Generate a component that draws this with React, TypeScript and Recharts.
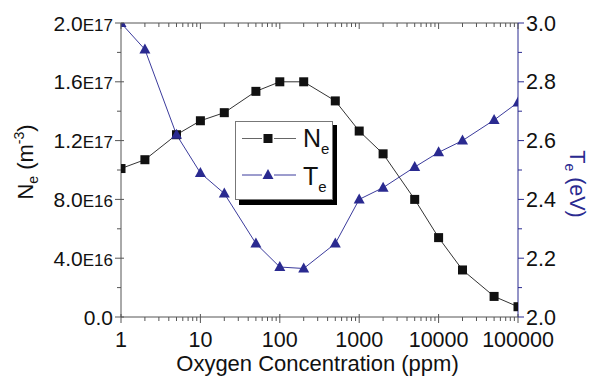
import React from 'react';
import { LineChart, Line, XAxis, YAxis, Legend } from 'recharts';

// ---- data ----
const oxygenPpm = [1, 2, 5, 10, 20, 50, 100, 200, 500, 1000, 2000, 5000, 10000, 20000, 50000, 100000];
const electronDensity = [1.01e17, 1.07e17, 1.24e17, 1.335e17, 1.39e17, 1.535e17, 1.6e17, 1.6e17, 1.47e17, 1.265e17, 1.11e17, 0.8e17, 0.54e17, 0.32e17, 0.14e17, 0.07e17];
const electronTemp = [3.0, 2.91, 2.62, 2.49, 2.42, 2.25, 2.17, 2.165, 2.25, 2.4, 2.44, 2.51, 2.56, 2.6, 2.67, 2.73];

// ---- ticks ----
const xMajorTicks = [1, 10, 100, 1000, 10000, 100000];
const xMajorLabels = ['1', '10', '100', '1000', '10000', '100000'];
const xMinorMultipliers = [2, 3, 4, 5, 6, 7, 8, 9];
const leftMajorTicks = [0, 4e16, 8e16, 1.2e17, 1.6e17, 2e17];
const leftMinorTicks = [2e16, 6e16, 1e17, 1.4e17, 1.8e17];
const leftTickMantissa = ['0.0', '4.0', '8.0', '1.2', '1.6', '2.0'];
const leftTickExponent = ['', 'E16', 'E16', 'E17', 'E17', 'E17'];
const rightMajorTicks = [2.0, 2.2, 2.4, 2.6, 2.8, 3.0];
const rightMinorTicks = [2.1, 2.3, 2.5, 2.7, 2.9];
const rightTickLabels = ['2.0', '2.2', '2.4', '2.6', '2.8', '3.0'];

const xAllTicks: number[] = [];
xMajorTicks.forEach((d, i) => {
  xAllTicks.push(d);
  if (i < xMajorTicks.length - 1) xMinorMultipliers.forEach((m) => xAllTicks.push(d * m));
});
const leftAllTicks = [...leftMajorTicks, ...leftMinorTicks].sort((a, b) => a - b);
const rightAllTicks = [...rightMajorTicks, ...rightMinorTicks].sort((a, b) => a - b);

const chartData = oxygenPpm.map((x, i) => ({ x, ne: electronDensity[i], te: electronTemp[i] }));

const FONT = '"Liberation Sans", Arial, sans-serif';
const AXIS_GRAY = '#555';
const BLUE = '#2a2a90';
const BLUE_LINE = '#3b3b9c';
const NE_LINE = '#333';

const BottomTick = (props: any) => {
  const { x, y, payload } = props;
  const i = xMajorTicks.indexOf(payload.value);
  const major = i >= 0;
  return (
    <g>
      <line x1={x} x2={x} y1={y - (major ? 3 : 0)} y2={y + (major ? 6 : 4)} stroke={AXIS_GRAY} />
      {major && (
        <text x={x} y={y + 30} textAnchor="middle" fontSize={21.5} fontFamily={FONT} fill="#111">
          {xMajorLabels[i]}
        </text>
      )}
    </g>
  );
};

const TopTick = (props: any) => {
  const { x, y, payload } = props;
  const major = xMajorTicks.indexOf(payload.value) >= 0;
  return <line x1={x} x2={x} y1={y} y2={y + (major ? 6 : 4)} stroke={AXIS_GRAY} />;
};

const LeftTick = (props: any) => {
  const { x, y, payload } = props;
  const i = leftMajorTicks.indexOf(payload.value);
  const major = i >= 0;
  return (
    <g>
      <line x1={x - (major ? 6 : 4)} x2={x + (major ? 3 : 0)} y1={y} y2={y} stroke={AXIS_GRAY} />
      {major && (
        <text x={x - 8} y={y + 7.5} textAnchor="end" fontSize={21} fontFamily={FONT} fill="#111">
          {leftTickMantissa[i]}
          <tspan fontSize={17}>{leftTickExponent[i]}</tspan>
        </text>
      )}
    </g>
  );
};

const RightTick = (props: any) => {
  const { x, y, payload } = props;
  const v = Math.round(payload.value * 10) / 10;
  const i = rightMajorTicks.indexOf(v);
  const major = i >= 0;
  return (
    <g>
      <line x1={x} x2={x + (major ? 6 : 4)} y1={y} y2={y} stroke={BLUE} />
      {major && (
        <text x={x + 8} y={y + 7.5} textAnchor="start" fontSize={21.5} fontFamily={FONT} fill="#111">
          {rightTickLabels[i]}
        </text>
      )}
    </g>
  );
};

const SquareDot = (props: any) => {
  const { cx, cy, index } = props;
  if (cx == null || cy == null) return <g key={`s${index}`} />;
  return <rect key={`s${index}`} x={cx - 4.5} y={cy - 4.5} width={9} height={9} fill="#111" />;
};

const TriangleDot = (props: any) => {
  const { cx, cy, index } = props;
  if (cx == null || cy == null) return <g key={`t${index}`} />;
  return (
    <polygon
      key={`t${index}`}
      points={`${cx},${cy - 6} ${cx - 5.5},${cy + 4} ${cx + 5.5},${cy + 4}`}
      fill={BLUE}
    />
  );
};

const XTitle = (props: any) => {
  const vb = props.viewBox || { x: 121, y: 317, width: 397 };
  return (
    <text x={vb.x + vb.width / 2 - 2} y={vb.y + 54} textAnchor="middle" fontSize={22} fontFamily={FONT} fill="#111">
      Oxygen Concentration (ppm)
    </text>
  );
};

const LeftTitle = () => (
  <text transform="translate(33,162) rotate(-90)" textAnchor="middle" fontSize={22} fontFamily={FONT} fill="#111">
    N<tspan fontSize={14} dy={5}>e</tspan>
    <tspan dy={-5}> (m</tspan>
    <tspan fontSize={14} dy={-9}>-3</tspan>
    <tspan dy={9}>)</tspan>
  </text>
);

const RightTitle = () => (
  <text transform="translate(570,184) rotate(90)" textAnchor="middle" fontSize={21.5} fontFamily={FONT} fill={BLUE}>
    T<tspan fontSize={14} dy={5}>e</tspan>
    <tspan dy={-5}> (eV)</tspan>
  </text>
);

const LegendBox = () => (
  <svg width={104} height={86} style={{ display: 'block' }}>
    <rect x={4} y={4} width={98} height={80} fill="#000" />
    <rect x={0.5} y={0.5} width={97} height={78} fill="#fff" stroke="#777" />
    <line x1={7} x2={27} y1={17.5} y2={17.5} stroke="#666" />
    <line x1={39} x2={61} y1={17.5} y2={17.5} stroke="#666" />
    <rect x={28.5} y={13} width={9} height={9} fill="#111" />
    <text x={68} y={26} fontSize={25} fontFamily={FONT} fill="#111">
      N<tspan fontSize={15} dy={7}>e</tspan>
    </text>
    <line x1={7} x2={27} y1={54} y2={54} stroke={BLUE_LINE} />
    <line x1={39} x2={61} y1={54} y2={54} stroke={BLUE_LINE} />
    <polygon points="33,48 27.5,58 38.5,58" fill={BLUE} />
    <text x={68} y={64} fontSize={25} fontFamily={FONT} fill="#111">
      T<tspan fontSize={15} dy={7}>e</tspan>
    </text>
  </svg>
);

export default function App() {
  return (
    <div style={{ position: 'absolute', left: 0, top: 0, width: 590, height: 376, background: '#fff' }}>
      <LineChart
        width={590}
        height={376}
        data={chartData}
        margin={{ top: 22, right: 71, bottom: 58, left: 120 }}
      >
        <XAxis
          xAxisId="bottom"
          dataKey="x"
          type="number"
          scale="log"
          domain={[1, 100000]}
          allowDataOverflow
          ticks={xAllTicks}
          interval={0}
          tick={<BottomTick />}
          tickLine={false}
          tickSize={0}
          tickMargin={0}
          height={1}
          axisLine={{ stroke: AXIS_GRAY }}
          label={<XTitle />}
        />
        <XAxis
          xAxisId="top"
          orientation="top"
          dataKey="x"
          type="number"
          scale="log"
          domain={[1, 100000]}
          allowDataOverflow
          ticks={xAllTicks}
          interval={0}
          tick={<TopTick />}
          tickLine={false}
          tickSize={0}
          tickMargin={0}
          height={1}
          axisLine={{ stroke: AXIS_GRAY }}
        />
        <YAxis
          yAxisId="left"
          orientation="left"
          type="number"
          domain={[0, 2e17]}
          allowDataOverflow
          ticks={leftAllTicks}
          interval={0}
          tick={<LeftTick />}
          tickLine={false}
          tickSize={0}
          tickMargin={0}
          width={1}
          axisLine={{ stroke: AXIS_GRAY }}
          label={<LeftTitle />}
        />
        <YAxis
          yAxisId="right"
          orientation="right"
          type="number"
          domain={[2, 3]}
          allowDataOverflow
          ticks={rightAllTicks}
          interval={0}
          tick={<RightTick />}
          tickLine={false}
          tickSize={0}
          tickMargin={0}
          width={1}
          axisLine={{ stroke: BLUE }}
          label={<RightTitle />}
        />
        <Legend
          layout="vertical"
          align="center"
          verticalAlign="middle"
          content={<LegendBox />}
          wrapperStyle={{ position: 'absolute', left: 235, top: 121, width: 104, height: 86 }}
        />
        <Line
          xAxisId="bottom"
          yAxisId="left"
          dataKey="ne"
          stroke={NE_LINE}
          strokeWidth={1}
          dot={<SquareDot />}
          activeDot={false}
          isAnimationActive={false}
        />
        <Line
          xAxisId="bottom"
          yAxisId="right"
          dataKey="te"
          stroke={BLUE_LINE}
          strokeWidth={1}
          dot={<TriangleDot />}
          activeDot={false}
          isAnimationActive={false}
        />
      </LineChart>
    </div>
  );
}
